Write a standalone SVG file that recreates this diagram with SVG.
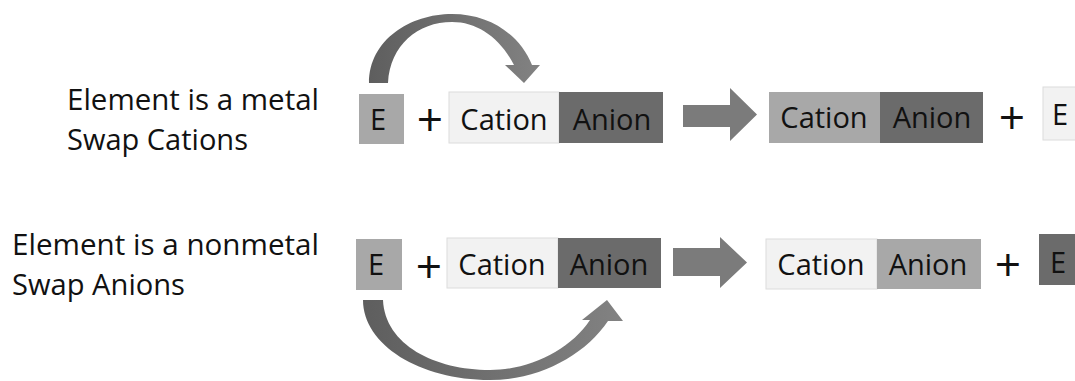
<svg xmlns="http://www.w3.org/2000/svg" width="1075" height="381" viewBox="0 0 1075 381">
<style>
text{font-family:"Open Sans","Liberation Sans",sans-serif;fill:#111}
.lbl{font-size:29px}
.box{font-size:29px;text-anchor:middle}
.plus{font-size:46px;text-anchor:middle}
.light{fill:#f2f2f2;stroke:#dcdcdc;stroke-width:1}
.mid{fill:#a8a8a8}
.dark{fill:#6b6b6b}
.block{fill:#7b7b7b}
</style>
<defs>
<linearGradient id="g1" x1="0" y1="0" x2="1" y2="0">
<stop offset="0" stop-color="#5e5e5e"/>
<stop offset="1" stop-color="#828282"/>
</linearGradient>
</defs>
<rect width="1075" height="381" fill="#fff"/>
<g id="label-metal">
<text class="lbl" x="67" y="110" textLength="252" lengthAdjust="spacingAndGlyphs">Element is a metal</text>
<text class="lbl" x="67" y="150" textLength="181" lengthAdjust="spacingAndGlyphs">Swap Cations</text>
</g>
<g id="label-nonmetal">
<text class="lbl" x="12" y="255" textLength="307" lengthAdjust="spacingAndGlyphs">Element is a nonmetal</text>
<text class="lbl" x="12" y="295" textLength="173" lengthAdjust="spacingAndGlyphs">Swap Anions</text>
</g>
<g id="top-E">
<rect class="mid" x="359" y="94" width="45" height="50"/>
<text class="box" x="378" y="130">E</text>
</g>
<text class="plus" x="430" y="136">+</text>
<g id="top-cation">
<rect class="light" x="449" y="92" width="110" height="51"/>
<text class="box" x="504" y="130">Cation</text>
</g>
<g id="top-anion">
<rect class="dark" x="559" y="92" width="104" height="51"/>
<text class="box" x="612" y="130">Anion</text>
</g>
<g id="top-r-cation">
<rect class="mid" x="769" y="92" width="111" height="51"/>
<text class="box" x="824" y="128">Cation</text>
</g>
<g id="top-r-anion">
<rect class="dark" x="880" y="92" width="103" height="51"/>
<text class="box" x="932" y="128">Anion</text>
</g>
<text class="plus" x="1012" y="134">+</text>
<g id="top-r-E">
<rect class="light" x="1043" y="87" width="40" height="53"/>
<text class="box" x="1060" y="125">E</text>
</g>
<g id="bot-E">
<rect class="mid" x="356" y="239" width="46" height="51"/>
<text class="box" x="376" y="275">E</text>
</g>
<text class="plus" x="429" y="283">+</text>
<g id="bot-cation">
<rect class="light" x="447" y="238" width="111" height="50"/>
<text class="box" x="502" y="275">Cation</text>
</g>
<g id="bot-anion">
<rect class="dark" x="558" y="238" width="103" height="50"/>
<text class="box" x="609" y="275">Anion</text>
</g>
<g id="bot-r-cation">
<rect class="light" x="766" y="239" width="111" height="50"/>
<text class="box" x="821" y="275">Cation</text>
</g>
<g id="bot-r-anion">
<rect class="mid" x="877" y="239" width="104" height="50"/>
<text class="box" x="928" y="275">Anion</text>
</g>
<text class="plus" x="1008" y="281">+</text>
<g id="bot-r-E">
<rect class="dark" x="1039" y="234" width="40" height="51"/>
<text class="box" x="1058" y="273">E</text>
</g>
<g id="connectors">
<path class="block" d="M683,105 H730 V88 L757,114.5 L730,141 V127 H683 Z"/>
<path class="block" d="M673,248 H720 V237 L747,262.5 L720,288 V276 H673 Z"/>
<path fill="url(#g1)" d="M369,83 C369,40 410,14 452,14 C490,14 520,35 532,65 L540,65 L524,83 L505,65 L514,65 C500,38 478,22 452,22 C418,22 390,45 388,83 Z"/>
<path fill="url(#g1)" d="M363,300 C363,345 420,380 490,380 C540,380 585,355 608,321 L623,321 L607,300 L582,320 L590,320 C570,350 530,370 490,370 C435,370 385,345 383,300 Z"/>
</g>
</svg>
